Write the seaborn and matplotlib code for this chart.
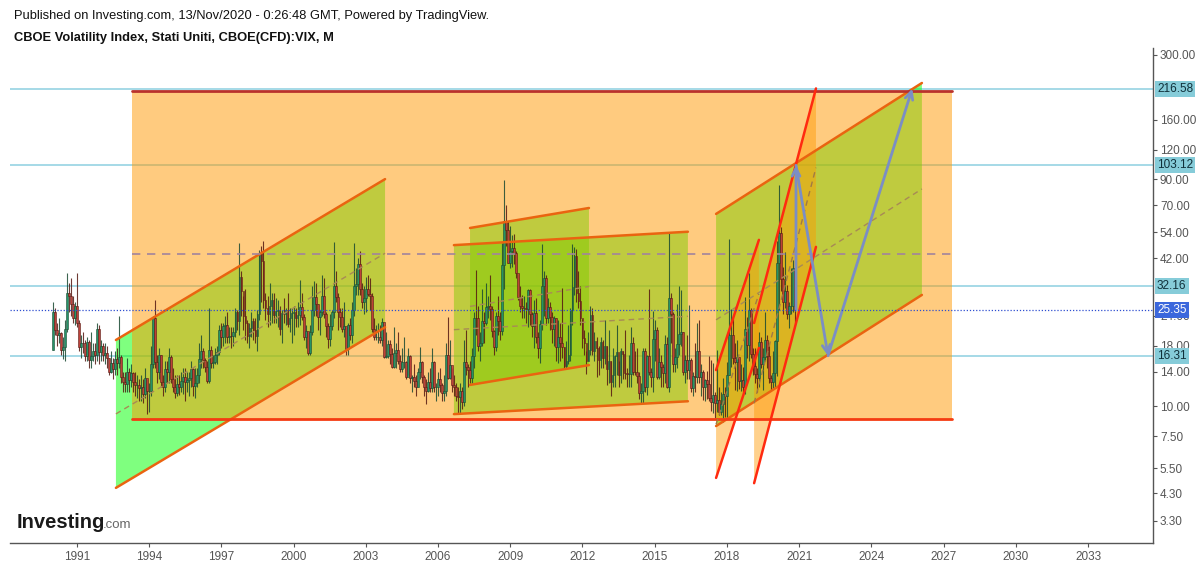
import numpy as np
import pandas as pd
import matplotlib
matplotlib.use("Agg")
import matplotlib.pyplot as plt
import seaborn as sns
from matplotlib.patches import Polygon
from matplotlib.transforms import blended_transform_factory

# ── VIX monthly candles, Jan 1990 .. Nov 2020 (one row per year) ──────────────
first_open = 17.2
vix_close = [
    24.8, 21.0, 19.9, 20.3, 17.2, 17.8, 21.1, 29.9, 29.1, 27.0, 23.5, 26.4,   # 1990
    22.5, 17.8, 18.5, 18.4, 16.3, 18.6, 15.6, 16.3, 17.0, 16.4, 21.1, 16.9,   # 1991
    18.0, 16.5, 16.8, 15.9, 14.0, 15.2, 14.3, 15.8, 15.2, 16.1, 13.3, 12.6,   # 1992
    12.4, 14.0, 12.9, 13.8, 12.6, 12.3, 12.3, 11.9, 12.0, 11.3, 13.1, 11.6,   # 1993
    11.6, 15.1, 23.5, 15.3, 14.0, 16.4, 12.7, 12.1, 14.3, 14.0, 16.1, 13.0,   # 1994
    12.1, 11.4, 12.4, 12.1, 12.8, 13.3, 12.6, 12.9, 13.1, 14.4, 12.2, 12.5,   # 1995
    13.6, 15.8, 17.0, 15.6, 14.6, 12.8, 17.2, 15.2, 15.4, 16.4, 16.9, 20.9,   # 1996
    19.5, 21.7, 22.0, 19.5, 19.8, 19.7, 20.6, 24.9, 22.8, 35.1, 30.4, 24.0,   # 1997
    22.5, 19.8, 21.3, 22.8, 21.0, 19.7, 24.4, 44.3, 40.9, 28.1, 26.0, 24.4,   # 1998
    26.3, 27.9, 24.3, 25.1, 25.4, 21.1, 24.6, 24.5, 25.4, 22.2, 23.5, 24.6,   # 1999
    24.9, 23.4, 24.1, 26.2, 23.7, 19.5, 20.7, 16.8, 20.6, 25.4, 28.9, 26.9,   # 2000
    23.7, 24.9, 29.1, 24.5, 21.7, 19.1, 21.7, 24.8, 31.9, 28.9, 24.8, 23.8,   # 2001
    21.1, 21.7, 17.4, 21.9, 19.9, 25.4, 32.0, 32.6, 39.7, 31.1, 27.5, 28.6,   # 2002
    31.2, 29.6, 29.1, 21.2, 19.5, 19.5, 19.5, 19.0, 22.7, 16.1, 16.3, 18.3,   # 2003
    16.6, 14.6, 16.7, 17.2, 15.5, 14.3, 15.3, 15.3, 13.3, 16.3, 13.2, 13.3,   # 2004
    12.8, 12.1, 14.0, 15.3, 13.3, 12.0, 11.6, 12.6, 11.9, 15.3, 12.1, 12.1,   # 2005
    13.0, 12.3, 11.4, 11.6, 16.4, 13.1, 14.9, 12.3, 12.0, 11.1, 10.9, 11.6,   # 2006
    10.4, 15.4, 14.6, 14.2, 13.1, 16.2, 23.5, 23.4, 18.0, 18.5, 22.9, 22.5,   # 2007
    26.2, 26.5, 25.6, 20.8, 17.8, 23.9, 22.9, 20.7, 39.4, 59.9, 55.3, 40.0,   # 2008
    44.8, 46.4, 44.1, 36.5, 28.9, 26.4, 25.9, 26.0, 25.6, 30.7, 24.5, 21.7,   # 2009
    24.6, 19.5, 17.6, 22.1, 32.1, 34.5, 23.5, 26.1, 23.7, 21.2, 23.5, 17.8,   # 2010
    19.5, 18.4, 17.7, 14.8, 15.5, 16.5, 25.3, 31.6, 43.0, 30.0, 27.8, 23.4,   # 2011
    19.4, 18.4, 15.5, 17.2, 24.1, 17.1, 18.9, 17.5, 15.7, 18.6, 15.9, 18.0,   # 2012
    14.3, 15.5, 12.7, 13.5, 16.3, 16.9, 13.5, 17.0, 16.6, 13.8, 13.7, 13.7,   # 2013
    18.4, 14.0, 13.9, 13.4, 11.4, 11.6, 17.0, 12.1, 16.3, 14.0, 13.3, 19.2,   # 2014
    21.0, 13.3, 15.3, 14.6, 13.8, 18.2, 12.1, 28.4, 24.4, 15.1, 16.1, 18.2,   # 2015
    20.2, 20.6, 14.0, 15.7, 14.2, 15.6, 11.9, 13.4, 13.3, 17.1, 13.3, 14.0,   # 2016
    12.0, 12.9, 12.4, 10.8, 10.4, 11.2, 10.3, 10.6, 9.5, 10.2, 11.3, 11.0,    # 2017
    13.5, 19.9, 20.0, 15.9, 15.4, 16.1, 12.8, 12.9, 12.1, 21.2, 18.1, 25.4,   # 2018
    16.6, 14.8, 13.7, 13.1, 18.7, 15.1, 16.1, 19.0, 16.2, 13.2, 12.6, 13.8,   # 2019
    18.8, 40.1, 53.5, 34.2, 27.5, 30.4, 24.5, 26.4, 26.4, 38.0, 25.35,        # 2020
]
vix_high = [
    27.5, 26.0, 22.5, 23.5, 20.5, 19.5, 23.0, 36.5, 33.0, 34.5, 29.0, 27.5,
    36.2, 23.0, 20.0, 20.5, 19.0, 19.5, 19.0, 20.5, 18.5, 18.5, 22.5, 22.0,
    19.0, 18.5, 18.5, 18.0, 16.0, 17.0, 16.0, 17.0, 17.5, 24.0, 16.5, 14.0,
    14.0, 16.0, 14.5, 15.0, 14.0, 14.0, 13.5, 13.0, 13.5, 13.0, 14.5, 13.0,
    12.5, 18.0, 24.0, 28.0, 16.5, 17.5, 16.5, 13.5, 15.5, 15.5, 17.5, 16.5,
    14.5, 13.5, 13.5, 13.5, 14.0, 14.5, 14.5, 14.0, 14.0, 15.5, 14.5, 14.5,
    14.5, 18.5, 20.0, 17.5, 16.0, 15.5, 26.0, 18.0, 16.5, 17.5, 18.0, 22.0,
    22.5, 22.5, 24.0, 25.0, 21.5, 21.5, 21.5, 26.0, 25.5, 48.6, 37.0, 29.0,
    31.0, 23.0, 22.5, 25.0, 23.5, 23.5, 25.5, 45.5, 47.0, 49.5, 30.0, 29.0,
    33.0, 30.0, 30.0, 28.5, 28.0, 26.5, 25.5, 28.5, 26.0, 30.0, 26.0, 26.0,
    26.5, 26.0, 27.5, 34.0, 30.0, 24.5, 22.0, 20.5, 22.0, 32.0, 33.5, 33.0,
    27.0, 25.5, 35.5, 34.5, 25.0, 22.5, 24.5, 25.5, 49.0, 37.0, 30.0, 26.0,
    26.0, 27.5, 21.5, 22.5, 23.5, 27.5, 48.5, 38.0, 42.0, 45.0, 33.0, 32.0,
    35.0, 35.5, 34.5, 30.0, 23.5, 22.0, 22.5, 22.0, 23.5, 22.0, 20.5, 19.0,
    19.0, 17.5, 21.5, 18.5, 20.5, 16.5, 17.5, 19.5, 15.5, 17.5, 16.5, 13.5,
    15.0, 13.5, 14.5, 17.8, 15.5, 13.5, 13.0, 14.0, 14.5, 17.5, 15.5, 12.5,
    14.0, 14.5, 12.5, 13.5, 18.5, 23.8, 19.0, 14.5, 13.5, 12.5, 12.0, 12.5,
    12.0, 19.0, 21.0, 15.0, 15.5, 17.5, 25.0, 37.5, 26.5, 20.5, 31.0, 25.0,
    33.0, 29.0, 35.5, 26.5, 21.0, 25.0, 29.0, 25.0, 48.5, 89.5, 70.0, 60.0,
    57.4, 52.5, 53.0, 45.0, 36.0, 32.0, 29.5, 29.0, 27.5, 31.0, 31.0, 25.0,
    28.0, 28.5, 20.5, 23.0, 48.2, 37.0, 35.5, 28.5, 27.5, 25.0, 24.0, 23.5,
    23.0, 22.5, 31.3, 17.8, 18.8, 22.0, 26.0, 48.0, 46.9, 46.0, 37.0, 32.0,
    23.3, 21.0, 17.0, 20.5, 26.5, 26.0, 20.5, 19.5, 18.0, 19.5, 19.0, 23.0,
    18.0, 21.0, 15.5, 17.5, 16.5, 21.9, 15.5, 17.5, 17.0, 21.0, 14.5, 16.5,
    21.5, 19.5, 17.0, 17.5, 14.0, 12.5, 17.5, 17.5, 16.5, 31.1, 14.5, 25.2,
    23.0, 21.5, 17.5, 16.5, 15.0, 20.0, 19.5, 53.3, 30.0, 25.0, 17.5, 26.8,
    32.1, 30.9, 20.5, 16.5, 20.0, 26.7, 16.0, 14.0, 18.5, 22.5, 23.0, 15.0,
    14.2, 13.0, 14.1, 16.3, 15.6, 15.2, 11.5, 17.3, 12.0, 11.5, 13.1, 12.0,
    15.4, 50.3, 25.7, 23.5, 18.5, 19.0, 16.0, 15.0, 14.6, 28.8, 23.8, 36.2,
    26.0, 17.5, 17.5, 14.5, 20.5, 19.5, 17.5, 24.8, 20.0, 18.5, 13.5, 17.0,
    19.0, 49.5, 85.5, 57.0, 38.5, 44.5, 32.5, 27.5, 38.3, 41.2, 38.5,
]
vix_low = [
    17.2, 20.0, 18.0, 18.5, 16.5, 15.8, 15.5, 20.5, 25.0, 24.0, 22.5, 22.0,
    21.5, 17.0, 16.0, 16.8, 15.5, 15.5, 14.5, 14.5, 15.5, 15.0, 15.5, 15.0,
    15.5, 15.5, 15.0, 14.5, 13.5, 13.8, 13.0, 13.5, 13.5, 14.5, 12.5, 11.5,
    11.5, 11.5, 11.5, 12.0, 11.5, 11.0, 10.8, 10.5, 10.5, 10.3, 10.8, 9.3,
    9.5, 11.0, 14.5, 14.5, 12.5, 13.0, 12.0, 11.0, 11.5, 12.5, 12.5, 12.5,
    11.5, 10.8, 11.0, 11.2, 11.5, 11.3, 10.5, 11.5, 11.0, 12.0, 11.0, 10.8,
    12.0, 12.5, 14.5, 14.5, 14.0, 12.5, 12.5, 14.5, 14.5, 15.0, 15.0, 16.5,
    17.5, 18.0, 18.5, 18.5, 18.5, 17.5, 18.0, 19.5, 21.0, 20.0, 24.0, 21.0,
    19.0, 18.5, 17.5, 19.5, 19.0, 18.5, 17.0, 23.0, 27.5, 26.0, 23.0, 21.5,
    22.0, 22.5, 22.5, 22.5, 21.5, 20.0, 18.5, 22.5, 22.0, 21.5, 20.5, 18.5,
    20.0, 21.5, 21.5, 22.0, 23.0, 19.0, 17.5, 16.5, 16.5, 20.0, 24.0, 24.0,
    21.0, 20.0, 24.0, 23.5, 19.5, 17.5, 18.0, 21.0, 23.5, 27.5, 21.0, 21.5,
    20.5, 19.5, 16.5, 16.5, 19.0, 18.5, 24.0, 29.5, 29.5, 29.5, 26.0, 24.5,
    25.0, 29.0, 25.5, 20.5, 19.0, 19.0, 18.5, 18.5, 18.0, 16.0, 16.0, 16.0,
    15.0, 14.5, 14.5, 14.5, 15.0, 14.0, 14.0, 14.5, 13.0, 13.5, 12.5, 11.5,
    12.0, 11.0, 12.0, 13.0, 12.5, 11.0, 10.2, 11.5, 11.5, 11.5, 11.5, 10.5,
    11.0, 11.5, 10.5, 10.5, 11.0, 13.0, 13.0, 11.5, 11.0, 10.5, 9.4, 9.4,
    9.7, 10.0, 13.5, 12.0, 12.5, 12.5, 14.5, 20.0, 17.0, 15.5, 18.0, 18.5,
    22.0, 23.5, 23.0, 19.5, 16.5, 17.0, 20.0, 19.0, 20.0, 31.0, 47.0, 40.0,
    38.0, 38.5, 39.5, 34.5, 28.0, 25.0, 23.5, 23.5, 22.5, 21.5, 22.0, 19.5,
    17.5, 18.5, 16.0, 15.2, 21.0, 24.0, 22.0, 22.5, 21.0, 18.5, 18.0, 15.5,
    15.2, 15.5, 16.0, 14.3, 14.5, 15.0, 15.5, 22.0, 29.5, 27.5, 26.0, 22.0,
    17.5, 16.5, 13.7, 15.5, 16.5, 16.5, 15.5, 13.3, 13.5, 14.5, 14.5, 15.0,
    12.3, 12.5, 11.0, 12.0, 12.0, 13.5, 12.0, 12.5, 13.0, 13.0, 12.0, 12.0,
    12.0, 13.5, 13.5, 12.5, 10.7, 10.3, 10.3, 11.5, 11.2, 13.5, 12.0, 11.5,
    15.5, 13.0, 13.0, 12.0, 12.0, 12.5, 11.9, 11.5, 18.5, 14.0, 14.0, 14.5,
    16.5, 18.0, 13.5, 12.5, 13.0, 13.0, 11.5, 11.0, 11.5, 12.5, 12.5, 11.0,
    10.6, 10.5, 10.7, 10.5, 9.6, 9.4, 8.9, 9.5, 9.2, 9.2, 8.6, 9.0,
    8.9, 13.5, 14.6, 15.0, 11.7, 11.6, 11.8, 11.6, 11.2, 11.3, 16.0, 15.5,
    16.0, 13.5, 12.5, 11.5, 12.0, 14.5, 11.7, 15.5, 14.5, 12.5, 11.7, 11.8,
    12.0, 13.4, 25.5, 30.5, 24.5, 25.8, 23.2, 21.3, 24.5, 25.0, 22.4,
]

# ── drawings (time in decimal years, price levels) ────────────────────────────
box_span = [1993.28, 2027.35]          # big orange rectangle
box_levels = [8.83, 212.0]
box_mid = 43.5
key_levels = [216.58, 103.12, 32.16, 16.31]
last_price = 25.35

# green parallel channels: start/end time, upper, lower and middle line levels
ch_time = [[1992.62, 2003.80], [2006.66, 2016.38], [2007.33, 2012.27], [2017.55, 2026.10]]
ch_upper = [[19.0, 90.2], [47.6, 54.2], [56.2, 68.2], [64.4, 228.8]]
ch_lower = [[4.54, 21.5], [9.27, 10.5], [12.3, 14.9], [8.26, 29.4]]
ch_mid = [[9.29, 44.0], [21.0, 23.9], [26.3, 31.9], [23.1, 82.0]]

# steep orange channels (2018 and 2020 breakouts)
steep_time = [[2017.55, 2019.33], [2019.13, 2021.70]]
steep_upper = [[14.2, 50.1], [22.4, 217.0]]
steep_lower = [[5.0, 17.6], [4.75, 46.8]]
steep_mid = [[8.4, 29.7], [10.3, 100.8]]

# projected path
path_t = [2020.87, 2020.87, 2022.20, 2025.70]
path_v = [25.35, 103.12, 16.31, 216.58]

year_ticks = list(range(1991, 2034, 3))
price_ticks = [300, 160, 120, 90, 70, 54, 42, 24, 18, 14, 10, 7.5, 5.5, 4.3, 3.3]

# ── build candle table ───────────────────────────────────────────────────────
n = len(vix_close)
df = pd.DataFrame({
    "t": 1990 + np.arange(n) / 12.0,
    "close": vix_close,
    "high": vix_high,
    "low": vix_low,
})
df["open"] = [first_open] + vix_close[:-1]
df["up"] = df["close"] >= df["open"]

sns.set_theme(style="white")
plt.rcParams["font.family"] = ["Liberation Sans", "DejaVu Sans"]

fig = plt.figure(figsize=(12, 5.65), dpi=100)
ax = fig.add_axes([10 / 1200, 22 / 565, 1143 / 1200, 495 / 565])
ax.set_yscale("log")
ax.set_xlim(1988.22, 2035.70)
ax.set_ylim(2.662, 321.0)

# horizontal levels (under the drawings)
for lv in key_levels:
    ax.axhline(lv, color="#8dd0e0", lw=1.1, zorder=1.5)

# green channels
for (t0, t1), (u0, u1), (l0, l1) in zip(ch_time, ch_upper, ch_lower):
    ax.add_patch(Polygon([(t0, l0), (t0, u0), (t1, u1), (t1, l1)], closed=True,
                         fc=(0.0, 1.0, 0.0, 0.5), ec="none", zorder=3))

# big orange box
b0, b1 = box_span
ax.add_patch(Polygon([(b0, box_levels[0]), (b0, box_levels[1]),
                      (b1, box_levels[1]), (b1, box_levels[0])], closed=True,
                     fc=(1.0, 0.6, 0.0, 0.5), ec="none", zorder=4))

# steep orange channels
for (t0, t1), (u0, u1), (l0, l1), (m0, m1) in zip(steep_time, steep_upper,
                                                  steep_lower, steep_mid):
    ax.add_patch(Polygon([(t0, l0), (t0, u0), (t1, u1), (t1, l1)], closed=True,
                         fc=(1.0, 0.6, 0.0, 0.45), ec="none", zorder=4.5))
    ax.plot([t0, t1], [u0, u1], color="#ff2a10", lw=1.8, zorder=5.2)
    ax.plot([t0, t1], [l0, l1], color="#ff2a10", lw=1.8, zorder=5.2)
    ax.plot([t0, t1], [m0, m1], color="#a07a45", lw=1.0, ls=(0, (4, 3)), zorder=5.2)

# candles (on top of the fills)
body_col = np.where(df["up"], "#249a6c", "#c8433c")
edge_col = np.where(df["up"], "#1a4a32", "#551812")
ax.vlines(df["t"], df["low"], df["high"], colors=edge_col, lw=0.8, alpha=0.85, zorder=4.8)
lo_body = np.minimum(df["open"], df["close"])
hi_body = np.maximum(df["open"], df["close"])
ax.bar(df["t"], hi_body - lo_body, bottom=lo_body, width=0.075,
       color=body_col, edgecolor=edge_col, linewidth=0.45, alpha=0.9, zorder=4.9)

# channel borders
for (t0, t1), (u0, u1), (l0, l1), (m0, m1) in zip(ch_time, ch_upper, ch_lower, ch_mid):
    ax.plot([t0, t1], [u0, u1], color="#ea6410", lw=1.8, zorder=5)
    ax.plot([t0, t1], [l0, l1], color="#ea6410", lw=1.8, zorder=5)
    ax.plot([t0, t1], [m0, m1], color="#a88a55", lw=1.0, ls=(0, (4, 3)), zorder=5)

ax.plot(box_span, [box_levels[1]] * 2, color="#b9322c", lw=2.0, zorder=5.1)
ax.plot(box_span, [box_levels[0]] * 2, color="#f43b12", lw=2.0, zorder=5.1)
ax.plot(box_span, [box_mid] * 2, color="#a2849c", lw=1.2, ls=(0, (5, 4)), zorder=5.1)

# projection arrows
for i in range(len(path_t) - 1):
    ax.annotate("", xy=(path_t[i + 1], path_v[i + 1]), xytext=(path_t[i], path_v[i]),
                arrowprops=dict(arrowstyle="->", color="#7b8ec4", lw=2.0,
                                shrinkA=0, shrinkB=0, mutation_scale=14),
                zorder=6)

# last price line
ax.axhline(last_price, color="#2f4fd0", lw=0.9, ls=(0, (1, 1.5)), zorder=7)

# ── axes styling ─────────────────────────────────────────────────────────────
for side in ["top", "left"]:
    ax.spines[side].set_visible(False)
for side in ["right", "bottom"]:
    ax.spines[side].set_color("#555555")
    ax.spines[side].set_linewidth(1.0)
ax.yaxis.tick_right()
ax.set_yticks(price_ticks)
ax.set_yticklabels([f"{p:.2f}" for p in price_ticks])
ax.yaxis.set_minor_locator(matplotlib.ticker.NullLocator())
ax.set_xticks(year_ticks)
ax.set_xticklabels([str(y) for y in year_ticks])
ax.tick_params(axis="y", length=3, width=0.8, color="#555555", labelsize=8.5,
               labelcolor="#555555", pad=2, right=True, direction="out")
ax.tick_params(axis="x", length=3, width=0.8, color="#555555", labelsize=8.5,
               labelcolor="#555555", pad=3, bottom=True, direction="out")
ax.grid(False)

# price labels on the axis
trans = blended_transform_factory(ax.transAxes, ax.transData)
for lv in key_levels:
    ax.text(1.0035, lv, f"{lv:.2f}", transform=trans, ha="left", va="center",
            fontsize=8.5, color="#10303a", clip_on=False, zorder=10,
            bbox=dict(boxstyle="square,pad=0.18", fc="#86ccd9", ec="none"))
ax.text(1.0035, last_price, f"{last_price:.2f}", transform=trans, ha="left", va="center",
        fontsize=8.5, color="white", clip_on=False, zorder=10,
        bbox=dict(boxstyle="square,pad=0.18", fc="#3b67dc", ec="none"))

# header
fig.text(14 / 1200, 1 - 16 / 565,
         "Published on Investing.com, 13/Nov/2020 - 0:26:48 GMT, Powered by TradingView.",
         fontsize=9.3, color="#111111", va="center", ha="left")
fig.text(14 / 1200, 1 - 38 / 565, "CBOE Volatility Index, Stati Uniti, CBOE(CFD):VIX, M",
         fontsize=9.3, fontweight="bold", color="#111111", va="center", ha="left")

# logo
fig.text(17 / 1200, 1 - 523 / 565, "Investing", fontsize=14.5, fontweight="bold",
         color="#1a1a1a", va="center", ha="left",
         family=["Liberation Sans Narrow", "Liberation Sans", "DejaVu Sans"])
fig.text(103 / 1200, 1 - 525 / 565, ".com", fontsize=9.5, color="#666666",
         va="center", ha="left",
         family=["Liberation Sans Narrow", "Liberation Sans", "DejaVu Sans"])

fig.savefig("out.png", dpi=100)
